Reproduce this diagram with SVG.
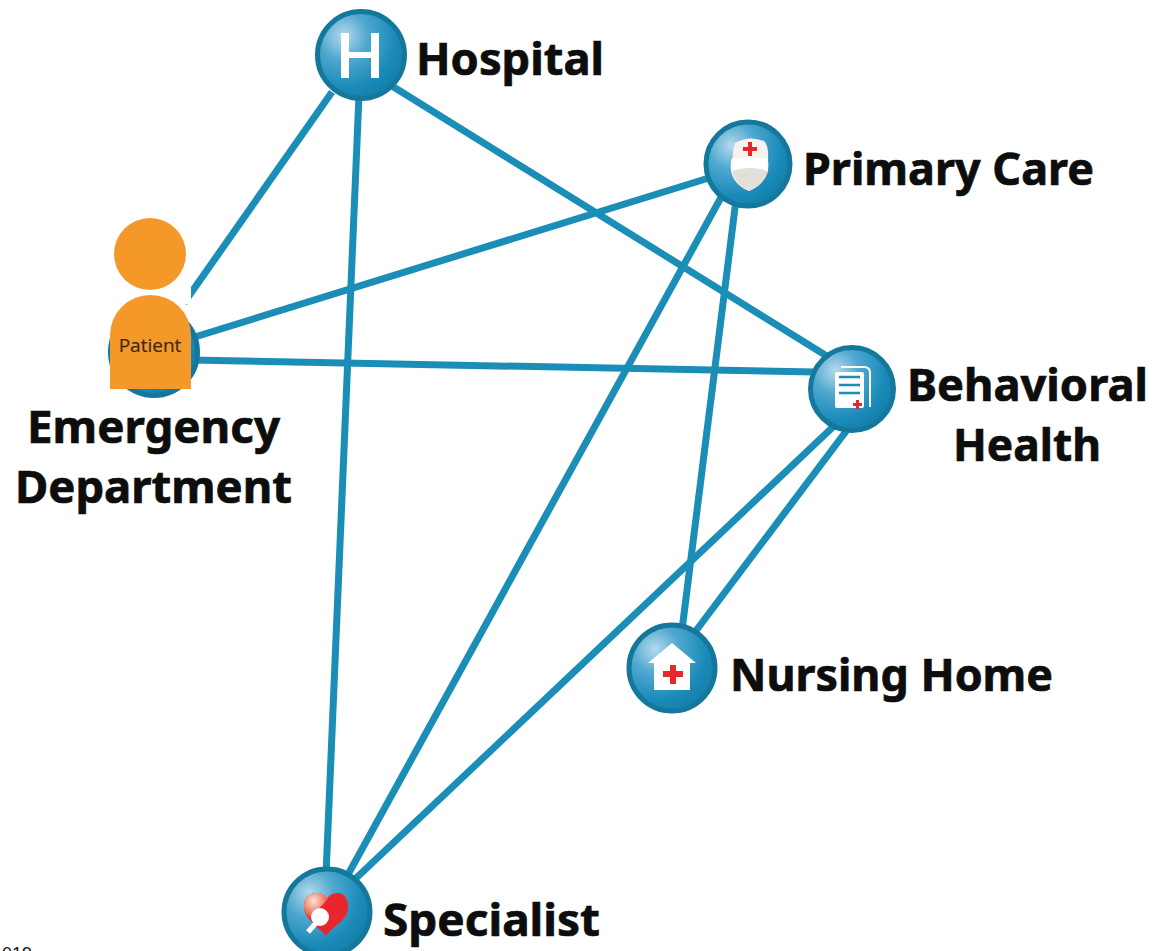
<svg xmlns="http://www.w3.org/2000/svg" width="1169" height="951" viewBox="0 0 1169 951">
<style>
.lbl{font-family:"Noto Sans","Open Sans","Liberation Sans",sans-serif;font-weight:700;font-size:45px;fill:#0d0d0d;stroke:#0d0d0d;stroke-width:.7}
.edge{stroke:#1b8eb7;stroke-width:7;fill:none}
.ring{fill:url(#ball);stroke:#14789c;stroke-width:5}
.red{fill:#e8262b}
.w{fill:#fff}
</style>
<defs>
<radialGradient id="ball" cx="0.3" cy="0.28" r="0.8">
<stop offset="0" stop-color="#b5d9ec"/>
<stop offset="0.35" stop-color="#4fa8d0"/>
<stop offset="0.75" stop-color="#1a8ab8"/>
<stop offset="1" stop-color="#137fa8"/>
</radialGradient>
<radialGradient id="lobe" cx="0.4" cy="0.3" r="0.75">
<stop offset="0" stop-color="#fbe3da"/>
<stop offset="0.55" stop-color="#ef8a70"/>
<stop offset="1" stop-color="#e8262b"/>
</radialGradient>
</defs>
<rect width="1169" height="951" fill="#fff"/>
<g id="connectors">
<line class="edge" x1="332" y1="92" x2="184" y2="303"/>
<line class="edge" x1="359" y1="95" x2="326" y2="875"/>
<line class="edge" x1="392" y1="86" x2="830" y2="358"/>
<line class="edge" x1="712" y1="177" x2="185" y2="340"/>
<line class="edge" x1="724" y1="192" x2="345" y2="880"/>
<line class="edge" x1="736" y1="200" x2="682" y2="630"/>
<line class="edge" x1="815" y1="372" x2="190" y2="360"/>
<line class="edge" x1="835" y1="425" x2="352" y2="882"/>
<line class="edge" x1="847" y1="430" x2="695" y2="632"/>
</g>
<g id="hospital">
<circle class="ring" cx="361" cy="55" r="43.5"/>
<path class="w" d="M341 33h8v19h22v-19h8v45h-8v-20h-22v20h-8z"/>
<text class="lbl" x="416" y="75" textLength="188" lengthAdjust="spacingAndGlyphs">Hospital</text>
</g>
<g id="primary-care">
<circle class="ring" cx="748" cy="164" r="42"/>
<path d="M735 143q14-8 29 -2q5 4 4 20h-35q-1-10 2-18z" fill="#f6f3ee"/>
<path d="M732 158h35q2 2 1 13q-4 14-19 20q-15-6-18-20q-1-9 1-13z" fill="#fff"/>
<path d="M732 171q17-6 36 0q-4 14-19 20q-14-6-17-20z" fill="#e3dfd9"/>
<path class="red" d="M748 142h4v5h5v4h-5v5h-4v-5h-5v-4h5z"/>
<text class="lbl" x="803" y="185" textLength="291" lengthAdjust="spacingAndGlyphs">Primary Care</text>
</g>
<g id="behavioral-health">
<circle class="ring" cx="852" cy="389" r="41.500"/>
<path d="M841 367h23q6 0 6 6v34" fill="none" stroke="#fff" stroke-width="2"/>
<rect class="w" x="835" y="372" width="29" height="36" rx="2"/>
<path d="M839 377h21M839 385h21M839 393h21" stroke="#1b8eb7" stroke-width="2.500"/>
<path class="red" d="M856 400h3v3h3v3h-3v3h-3v-3h-3v-3h3z"/>
<text class="lbl" x="907" y="401" textLength="241" lengthAdjust="spacingAndGlyphs">Behavioral</text>
<text class="lbl" x="953" y="461" textLength="148" lengthAdjust="spacingAndGlyphs">Health</text>
</g>
<g id="nursing-home">
<circle class="ring" cx="672" cy="668" r="43"/>
<path class="w" d="M672 643l24 20h-6v27h-36v-27h-6z"/>
<path class="red" d="M670 665h6v6h7v6h-7v7h-6v-7h-7v-6h7z"/>
<text class="lbl" x="730" y="691" textLength="323" lengthAdjust="spacingAndGlyphs">Nursing Home</text>
</g>
<g id="specialist">
<circle class="ring" cx="327" cy="912" r="43"/>
<path class="red" d="M326 936c-8-10-22-17-22-30c0-9 6-13 13-13c5 0 8 3 10 6c2-4 6-6 11-6c7 0 10 7 10 14c0 14-16 19-22 29z"/>
<path d="M317 893c-8 0-13 5-13 13c0 5 2 9 5 13l19-20c-3-4-6-6-11-6z" fill="url(#lobe)"/>
<line x1="308" y1="932" x2="316" y2="923" stroke="#fff" stroke-width="5"/>
<circle class="w" cx="320" cy="917" r="9"/>
<text class="lbl" x="383" y="936" textLength="217" lengthAdjust="spacingAndGlyphs">Specialist</text>
</g>
<g id="emergency-department">
<circle class="ring" cx="154" cy="352" r="43.500"/>
<rect class="w" x="110" y="218" width="81" height="86"/>
<text class="lbl" x="27" y="443" textLength="253" lengthAdjust="spacingAndGlyphs">Emergency</text>
<text class="lbl" x="15" y="503" textLength="277" lengthAdjust="spacingAndGlyphs">Department</text>
</g>
<g id="patient">
<circle cx="150" cy="254" r="36" fill="#f4982a"/>
<path d="M110 335a40.500 40 0 0 1 81 0v54h-81z" fill="#f4982a"/>
<text x="150" y="352" text-anchor="middle" font-family="'Open Sans','Noto Sans',sans-serif" font-size="19" fill="#3f2710" stroke="#3f2710" stroke-width=".2">Patient</text>
</g>
<text x="2" y="960" font-family="'Liberation Sans',sans-serif" font-size="18" fill="#111">019</text>
</svg>
